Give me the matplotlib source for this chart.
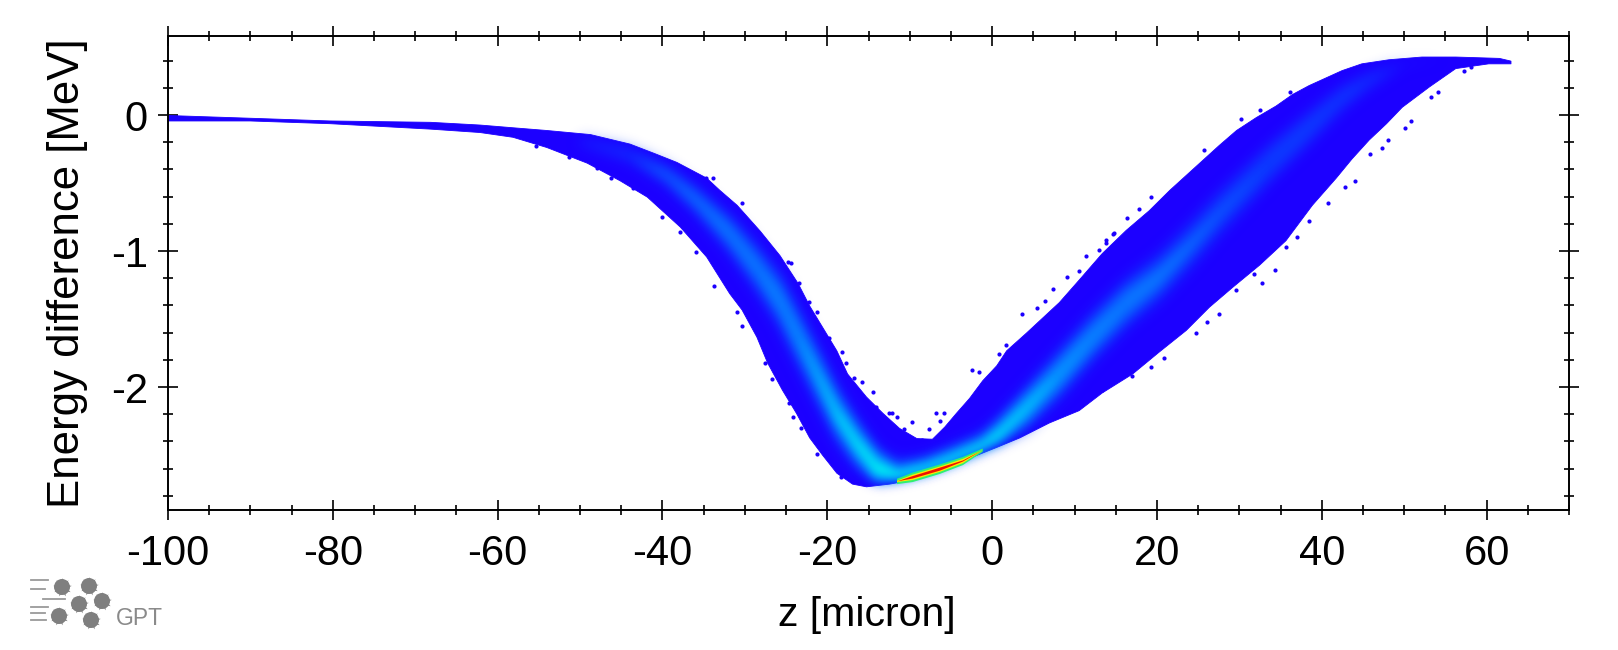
import numpy as np
import matplotlib
matplotlib.use('Agg')
import matplotlib.pyplot as plt
from matplotlib.patches import Circle

plt.rcParams['font.family'] = ['Liberation Sans', 'DejaVu Sans']
plt.rcParams['axes.unicode_minus'] = False

# outline of the particle cloud
upper_z = [-100, -90.1, -80.4, -68.2, -62.2, -58.2, -54.1, -48.8, -44.0, -41.0, -38.3, -34.7, -33.1, -31.0, -28.2,
           -25.8, -23.6, -22.2, -20.6, -18.9, -17.6, -15.3, -13.3, -11.3, -9.2, -7.3, -5.8, -4.4, -2.8, -1.2,
           0.5, 1.7, 4.1, 8.1, 10.5, 13.3, 16.2, 19.0, 21.5, 23.5, 25.5, 27.5, 29.6, 32.0, 34.4, 36.4, 38.4,
           42.4, 44.8, 48.1, 52.1, 56.2, 61.5, 62.9]
upper_e = [0, -0.02, -0.04, -0.05, -0.07, -0.09, -0.11, -0.14, -0.21, -0.28, -0.345, -0.46, -0.55, -0.66, -0.85,
           -1.03, -1.235, -1.40, -1.56, -1.73, -1.90, -2.07, -2.19, -2.30, -2.375, -2.38, -2.29, -2.19, -2.08, -1.95,
           -1.84, -1.73, -1.60, -1.375, -1.21, -1.015, -0.845, -0.70, -0.55, -0.44, -0.33, -0.22, -0.11, -0.015, 0.07,
           0.155, 0.22, 0.33, 0.38, 0.41, 0.43, 0.43, 0.42, 0.40]
lower_z = [-100, -90.1, -80.4, -68.2, -62.2, -58.2, -54.1, -49.2, -45.2, -41.9, -37.9, -34.7, -31.9, -30.4, -28.6,
           -27.3, -25.5, -23.8, -22.2, -20.6, -18.9, -17.0, -15.3, -12.5, -9.7, -6.1, -2.8, 0.5, 3.3, 6.9, 10.5,
           13.3, 17.0, 20.2, 23.5, 26.3, 29.1, 32.4, 35.6, 38.8, 41.7, 43.6, 45.7, 47.8, 49.7, 53.0, 56.2, 60.2, 62.9]
lower_e = [-0.04, -0.04, -0.06, -0.10, -0.125, -0.16, -0.235, -0.35, -0.48, -0.60, -0.82, -1.04, -1.31, -1.43, -1.63,
           -1.82, -2.02, -2.19, -2.37, -2.50, -2.63, -2.71, -2.73, -2.71, -2.68, -2.61, -2.52, -2.44, -2.37, -2.26, -2.17,
           -2.04, -1.90, -1.74, -1.58, -1.41, -1.265, -1.10, -0.92, -0.66, -0.46, -0.32, -0.18, -0.06, 0.06, 0.21, 0.345,
           0.38, 0.38]

# bright ridge inside the cloud and how wide each colour is around it
ridge_z = [-50.1, -44.0, -39.5, -35.9, -31.9, -28.6, -25.8, -23.8, -21.3, -18.9, -16.5, -14.1, -11.6, -8.2, -5.2,
           -1.2, 0.8, 4.1, 8.1, 12.1, 16.2, 20.2, 24.2, 27.5, 33.6, 38.4, 42.4, 45.7, 49.7, 55.4]
ridge_e = [-0.18, -0.29, -0.44, -0.625, -0.87, -1.12, -1.36, -1.60, -1.90, -2.19, -2.41, -2.59, -2.66, -2.61, -2.54,
           -2.43, -2.34, -2.15, -1.90, -1.63, -1.38, -1.19, -0.94, -0.72, -0.35, -0.09, 0.13, 0.26, 0.38, 0.41]
width_1 = [.02, .035, .06, .09, .13, .16, .19, .20, .20, .20, .18, .15, .12, .10, .10,
           .10, .12, .15, .17, .17, .17, .16, .15, .14, .12, .10, .07, .04, .01, 0]
width_2 = [0, 0, .02, .04, .07, .09, .11, .12, .13, .13, .12, .11, .08, .07, .07,
           .06, .08, .10, .11, .10, .09, .07, .04, .02, 0, 0, 0, 0, 0, 0]
width_3 = [0, 0, 0, 0, 0, 0, .01, .02, .04, .07, .08, .08, .05, .05, .05,
           .04, .05, .06, .03, .01, 0, 0, 0, 0, 0, 0, 0, 0, 0, 0]
width_4 = [0, 0, 0, 0, 0, 0, 0, 0, .01, .02, .03, .04, .04, .035, .03,
           .025, .02, .01, 0, 0, 0, 0, 0, 0, 0, 0, 0, 0, 0, 0]

# hot spot near the bottom of the dip
core_z = [-11.6, -9.7, -6.4, -3.6, -1.2]
core_e = [-2.69, -2.66, -2.60, -2.54, -2.46]
core_green = [.02, .035, .035, .03, .012]
core_yellow = [.005, .02, .02, .016, 0]
core_red = [0, .009, .011, .004, 0]

# stray particles outside the outline
stray_z = [3.6, -2.4, 11.4, 6.4, 7.4, 5.5, -1.6, 1.7, 0.8, 9.1, 13.8, 14.7,
           19.3, 20.8, 27.5, 32.7, 34.3, 26.1, 24.7, 17.0, 13.3, 22.7, 37.0, 40.7, 44.0, 42.8, 47.3, 48.0, 50.1,
           50.8, 54.1, 53.3, 57.2, 58.1, 45.9, 38.4, 35.6, 25.7, 30.2, 32.5, 36.2, 21.9,
           -6.8, -5.8, -9.7, -14.4, -18.2, -22.2, -26.2, -30.4, -30.9, -26.7, -24.2, -23.2, -21.2, -18.3,
           -55.3, -51.3, -48.0, -46.2, -43.6, -40.0, -37.9, -35.9, -33.7, -33.9, -34.7, -30.4, -24.4,
           16.4, 17.8, 19.3, 14.8, 13.8, 12.0, 10.5, 13.0, 19.3, 29.6, 17.5, 14.4, 31.8,
           3.5, 1.9, 1.1, -0.4, -3.3, -4.1, -6.3, -7.6, -13.3, -12.2, -11.6, -6.4, -8.5, -10.7,
           -24.8, -25.5, -23.4, -21.3, -19.8, -17.7, -16.7, -15.8, -14.1, -12.5, -27.6, -24.6]
stray_e = [-1.46, -1.875, -1.04, -1.37, -1.28, -1.42, -1.89, -1.69, -1.76, -1.19, -0.94, -0.875,
           -1.85, -1.79, -1.46, -1.235, -1.14, -1.52, -1.60, -1.92, -2.02, -1.58, -0.90, -0.65, -0.485, -0.53, -0.24, -0.18, -0.095,
           -0.045, 0.17, 0.13, 0.32, 0.35, -0.29, -0.78, -0.97, -0.26, -0.03, 0.04, 0.17, -0.57,
           -2.19, -2.19, -2.26, -2.04, -1.74, -1.375, -1.82, -1.55, -1.45, -1.94, -2.22, -2.30, -2.49, -2.66,
           -0.23, -0.31, -0.39, -0.46, -0.54, -0.75, -0.86, -1.01, -1.26, -0.46, -0.46, -0.65, -1.09,
           -0.76, -0.69, -0.60, -0.87, -0.92, -1.21, -1.15, -0.99, -0.79, -1.29, -1.82, -1.96, -1.17,
           -1.76, -1.82, -1.87, -1.99, -2.18, -2.22, -2.25, -2.31, -2.235, -2.19, -2.22, -2.375, -2.39, -2.31,
           -1.08, -1.125, -1.235, -1.45, -1.64, -1.82, -1.93, -1.96, -2.15, -2.19, -1.82, -2.12]

x_ticks = [-100, -80, -60, -40, -20, 0, 20, 40, 60]
y_ticks = [-2, -1, 0]


def soften(color, radius):
    # blur only the alpha so the band keeps its own colour
    rgb = matplotlib.colors.to_rgb(color)

    def process(im, dpi):
        pad = radius * 3
        a = np.pad(im[:, :, 3], pad)
        kernel = np.exp(-0.5 * (np.arange(-pad, pad + 1) / radius) ** 2)
        kernel = kernel / kernel.sum()
        a = np.apply_along_axis(lambda r: np.convolve(r, kernel, mode='same'), 0, a)
        a = np.apply_along_axis(lambda r: np.convolve(r, kernel, mode='same'), 1, a)
        out = np.zeros(a.shape + (4,))
        out[:, :, 0], out[:, :, 1], out[:, :, 2] = rgb
        out[:, :, 3] = a
        return out, -pad, -pad

    return process


fig = plt.figure(figsize=(16.18, 6.5), dpi=100)
ax = fig.add_axes([168 / 1618, 140 / 650, 1401 / 1618, 474 / 650])

# envelope on a shared z grid
edge_z = sorted(set(upper_z + lower_z))
ax.fill_between(edge_z, np.interp(edge_z, lower_z, lower_e), np.interp(edge_z, upper_z, upper_e),
                color='#1c00ff', lw=0.6, zorder=2)
ax.scatter(stray_z, stray_e, s=9, color='#1c00ff', marker='o', linewidths=0, zorder=2)

ridge_z = np.array(ridge_z)
ridge_e = np.array(ridge_e)
# keep the blurred bands inside the envelope
ridge_low = np.interp(ridge_z, lower_z, lower_e) + 0.04
ridge_up = np.interp(ridge_z, upper_z, upper_e) - 0.04
bands = [(width_1, '#0c3cff', 5), (width_2, '#0a78ff', 4), (width_3, '#00b4ff', 4), (width_4, '#00eef0', 3)]
for i, (w, col, r) in enumerate(bands):
    w = np.array(w)
    lo = np.minimum(np.maximum(ridge_e - w, ridge_low), ridge_e)
    hi = np.maximum(np.minimum(ridge_e + w, ridge_up), ridge_e)
    band = ax.fill_between(ridge_z, lo, hi, color=col, lw=0, zorder=3 + i)
    band.set_agg_filter(soften(col, r))

core_z = np.array(core_z)
core_e = np.array(core_e)
for i, (w, col) in enumerate([(core_green, '#30f070'), (core_yellow, '#ffe800'), (core_red, '#f01000')]):
    w = np.array(w)
    ax.fill_between(core_z, core_e - w, core_e + w, color=col, lw=0, zorder=8 + i)

ax.set_xlim(-100, 70)
ax.set_ylim(-2.904, 0.581)
ax.set_xticks(x_ticks)
ax.set_yticks(y_ticks)
ax.set_xticks(np.arange(-100, 71, 5), minor=True)
ax.set_yticks(np.arange(-2.8, 0.6, 0.2), minor=True)
ax.tick_params(which='major', direction='inout', length=15, width=1.2, top=True, right=True,
               labelsize=30, pad=7)
ax.tick_params(which='minor', direction='inout', length=7.5, width=1.2, top=True, right=True)
ax.tick_params(axis='x', which='major', pad=10)
for s in ax.spines.values():
    s.set_linewidth(1.4)
    s.set_zorder(20)

fig.text(867 / 1618, 1 - 615 / 650, 'z [micron]', ha='center', va='center', fontsize=29.5)
fig.text(68 / 1618, 1 - 273 / 650, 'Energy difference [MeV]', ha='center', va='center',
         rotation=90, fontsize=31.5)

# GPT logo in pixel coordinates
logo = fig.add_axes([0, 0, 1, 1], facecolor='none')
logo.set_xlim(0, 1618)
logo.set_ylim(650, 0)
logo.axis('off')
dots_x = [62, 89, 102, 79, 59, 91]
dots_y = [587, 586, 601, 604, 616, 620]
for cx, cy in zip(dots_x, dots_y):
    logo.add_patch(Circle((cx, cy), 8, color='#7f7f7f', lw=0))
    logo.plot(cx, cy, marker=(9, 1, 0), ms=13.5, color='#7f7f7f', mew=0)
dash_x0 = [31, 31, 43, 31, 31, 31]
dash_x1 = [48, 45, 65, 48, 45, 46]
dash_y = [580, 589, 599, 607, 613, 620]
for x0, x1, y in zip(dash_x0, dash_x1, dash_y):
    logo.plot([x0, x1], [y, y], color='#9a9a9a', lw=1.3)
logo.text(116, 625, 'GPT', fontsize=16.5, color='#8a8a8a', ha='left', va='baseline')

fig.savefig('out.png', dpi=100)
